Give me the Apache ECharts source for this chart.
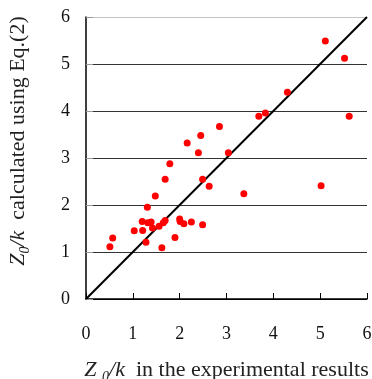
<!DOCTYPE html>
<html>
<head>
<meta charset="utf-8">
<script src="https://cdn.jsdelivr.net/npm/echarts@6/dist/echarts.min.js"></script>
<style>
  html, body { margin: 0; padding: 0; background: #fff; }
  #chart { width: 372px; height: 379px; }
</style>
</head>
<body>
<div id="chart"></div>
<script>
// experimental Z0/k vs. Eq.(2) Z0/k
const experimental = [
  2.85, 2.45, 2.16, 5.11, 5.52, 4.30, 3.83, 3.69, 5.62, 2.40,
  3.04, 1.79, 1.69, 2.49, 2.63, 1.48, 1.31, 1.20, 1.32, 1.39,
  1.42, 1.21, 1.03, 1.56, 1.65, 1.69, 2.00, 2.01, 2.09, 2.25,
  2.49, 1.90, 1.28, 1.62, 0.57, 0.51, 3.37, 5.02
];
const calculated = [
  3.67, 3.48, 3.32, 5.49, 5.12, 4.40, 3.96, 3.89, 3.89, 3.11,
  3.11, 2.88, 2.55, 2.55, 2.40, 2.19, 1.95, 1.65, 1.62, 1.64,
  1.51, 1.46, 1.45, 1.55, 1.62, 1.67, 1.70, 1.65, 1.60, 1.64,
  1.58, 1.31, 1.21, 1.09, 1.30, 1.11, 2.24, 2.41
];
const diagonal = [[0, 0], [6, 6]];
const tickLabels = ['0', '1', '2', '3', '4', '5', '6'];

const chart = echarts.init(document.getElementById('chart'));
const font = 'Liberation Serif';

const nameRich = {
  i: { fontFamily: font, fontStyle: 'italic', fontSize: 22, color: '#222' },
  s: { fontFamily: font, fontStyle: 'italic', fontSize: 14, color: '#222', padding: [13, 0, 0, 0] },
  t: { fontFamily: font, fontSize: 22, color: '#222' }
};

chart.setOption({
  animation: false,
  grid: { left: 86, right: 5, top: 17, bottom: 80, outerBoundsMode: 'none' },
  xAxis: {
    type: 'value',
    min: 0,
    max: 6,
    interval: 1,
    name: '{i|Z}{t| }{s|0}{i|/k}{t|  in the experimental results}',
    nameLocation: 'middle',
    nameGap: 58,
    nameTextStyle: { rich: nameRich },
    axisLine: { lineStyle: { color: '#000', width: 1.5 } },
    axisTick: { inside: true, length: 6, lineStyle: { color: '#000' } },
    axisLabel: {
      fontFamily: font, fontSize: 18, color: '#111', margin: 26,
      formatter: (v) => tickLabels[v]
    },
    splitLine: { show: false }
  },
  yAxis: {
    type: 'value',
    min: 0,
    max: 6,
    interval: 1,
    name: '{i|Z}{s|0}{i|/k}{t|  calculated using Eq.(2)}',
    nameLocation: 'middle',
    nameRotate: 90,
    nameGap: 54,
    nameTextStyle: { rich: nameRich, padding: [0, 0, 0, 34] },
    axisLine: { lineStyle: { color: '#000', width: 1.5 } },
    axisTick: { inside: true, length: 7, lineStyle: { color: '#999' } },
    axisLabel: {
      fontFamily: font, fontSize: 18, color: '#111', margin: 16,
      formatter: (v) => tickLabels[v]
    },
    splitLine: {
      show: true,
      lineStyle: {
        color: ['#000', '#333', '#333', '#333', '#333', '#333', '#c4c4c4'],
        width: 1
      }
    }
  },
  series: [
    {
      type: 'line',
      data: diagonal,
      symbol: 'none',
      lineStyle: { color: '#000', width: 2 },
      z: 3
    },
    {
      type: 'scatter',
      data: experimental.map((x, i) => [x, calculated[i]]),
      symbol: 'circle',
      symbolSize: 7,
      itemStyle: { color: '#ff0000', opacity: 1 },
      z: 4
    }
  ]
});
</script>
</body>
</html>
